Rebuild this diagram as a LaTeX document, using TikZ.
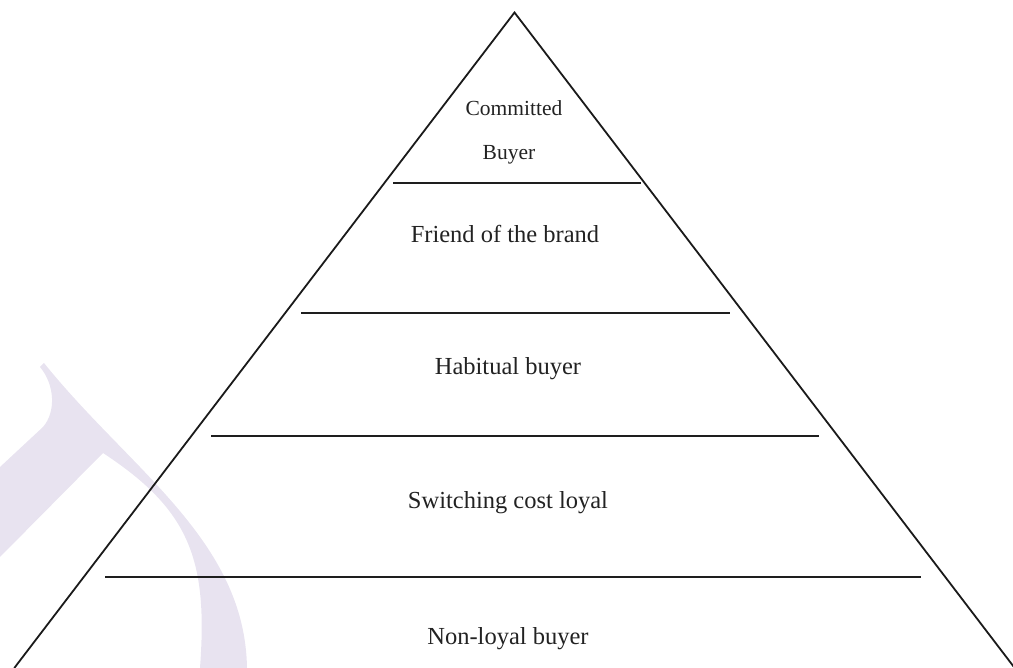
\documentclass[tikz,border=0pt]{standalone}
\usepackage{fontspec}
\setmainfont{Liberation Serif}
\begin{document}
\begin{tikzpicture}[x=1pt,y=-1pt,
  edge/.style={line width=1.8pt,draw={rgb,255:red,26;green,26;blue,26}},
  tier/.style={line width=1.8pt,draw={rgb,255:red,30;green,30;blue,30}},
  label/.style={anchor=base,inner sep=0pt,text={rgb,255:red,34;green,34;blue,34},font=\fontsize{24.5}{29}\selectfont},
  toplabel/.style={label,font=\fontsize{21.5}{25}\selectfont},
  wmark/.style={fill={rgb,255:red,232;green,227;blue,240}}]
\useasboundingbox (0,0) rectangle (1013,668);

% faint letter mark in the lower left
\fill[wmark] (0,467) -- (43,427) .. controls (56,412) and (55,385) .. (40,367)
  -- (44,363) .. controls (130,470) and (245,540) .. (247,668)
  -- (200,668) .. controls (208,560) and (190,510) .. (103,453)
  -- (0,557) -- cycle;

% pyramid outline
\coordinate (apex) at (514.5,12.5);
\coordinate (bl) at (14.3,668);
\coordinate (br) at (1014.7,668);
\draw[edge,line join=miter] (bl) -- (apex) -- (br);

% tier separators
\coordinate (s1l) at (393,183);  \coordinate (s1r) at (641,183);
\coordinate (s2l) at (301,313);  \coordinate (s2r) at (730,313);
\coordinate (s3l) at (211,436);  \coordinate (s3r) at (819,436);
\coordinate (s4l) at (105,577);  \coordinate (s4r) at (921,577);
\draw[tier] (s1l) -- (s1r);
\draw[tier] (s2l) -- (s2r);
\draw[tier] (s3l) -- (s3r);
\draw[tier] (s4l) -- (s4r);

% tier labels
\node[toplabel] (committed) at (514,116) {Committed};
\node[toplabel] (buyer) at (509,160) {Buyer};
\node[label] (friend) at (505,243) {Friend of the brand};
\node[label] (habitual) at (508,375) {Habitual buyer};
\node[label] (switching) at (508,508) {Switching cost loyal};
\node[label] (nonloyal) at (508,644) {Non-loyal buyer};
\end{tikzpicture}
\end{document}
